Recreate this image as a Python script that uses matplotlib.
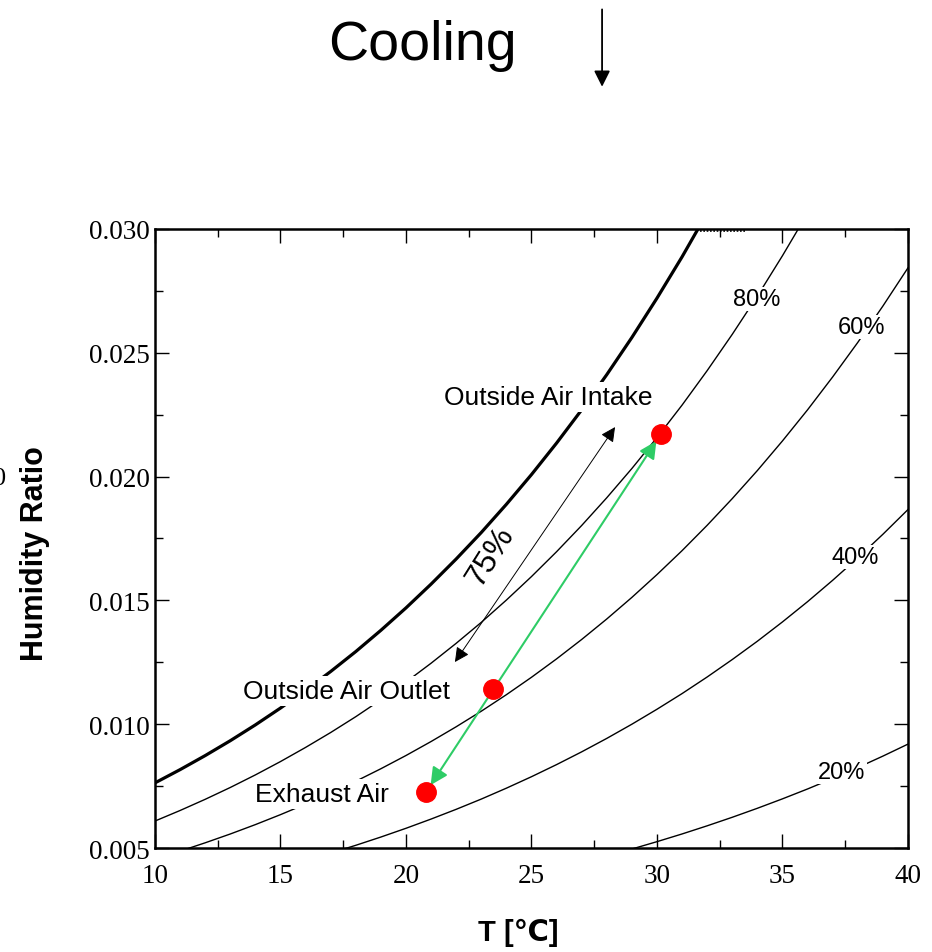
import matplotlib
matplotlib.use("Agg")
import matplotlib.pyplot as plt
from matplotlib.patches import FancyArrowPatch
from matplotlib.ticker import MultipleLocator, FormatStrFormatter

# humidity ratio (kg/kg) of each relative humidity line, one value per degC
t_100 = list(range(10, 34))
w_100 = [0.007631, 0.008166, 0.008733, 0.009334, 0.009973, 0.010652, 0.011370, 0.012129,
         0.012934, 0.013792, 0.014697, 0.015658, 0.016672, 0.017742, 0.018880, 0.020081,
         0.021353, 0.022696, 0.024117, 0.025617, 0.027205, 0.028874, 0.030647, 0.032518]
t_80 = list(range(10, 38))
w_80 = [0.006090, 0.006516, 0.006967, 0.007445, 0.007953, 0.008492, 0.009063, 0.009665,
        0.010304, 0.010985, 0.011703, 0.012463, 0.013267, 0.014113, 0.015013, 0.015962,
        0.016966, 0.018025, 0.019145, 0.020326, 0.021575, 0.022887, 0.024279, 0.025745,
        0.027288, 0.028919, 0.030633, 0.032450]
t_60 = list(range(10, 41))
w_60 = [0.004556, 0.004874, 0.005211, 0.005567, 0.005946, 0.006348, 0.006773, 0.007221,
        0.007696, 0.008202, 0.008736, 0.009301, 0.009897, 0.010525, 0.011192, 0.011895,
        0.012638, 0.013422, 0.014249, 0.015121, 0.016042, 0.017009, 0.018033, 0.019111,
        0.020244, 0.021440, 0.022696, 0.024024, 0.025417, 0.026885, 0.028428]
t_40 = list(range(16, 41))
w_40 = [0.004499, 0.004795, 0.005110, 0.005444, 0.005797, 0.006170, 0.006563, 0.006977,
        0.007417, 0.007880, 0.008369, 0.008884, 0.009427, 0.010000, 0.010604, 0.011237,
        0.011907, 0.012612, 0.013351, 0.014131, 0.014949, 0.015812, 0.016717, 0.017669,
        0.018668]
t_20 = list(range(28, 41))
w_20 = [0.004678, 0.004960, 0.005257, 0.005568, 0.005897, 0.006242, 0.006605, 0.006986,
        0.007385, 0.007807, 0.008248, 0.008711, 0.009196]

rh_labels = ["80%", "60%", "40%", "20%"]
rh_label_pos = [(33.98, 0.02717), (38.13, 0.02604), (37.89, 0.01675), (37.37, 0.00807)]

# air states
states = ["Outside Air Intake", "Outside Air Outlet", "Exhaust Air"]
state_t = [30.16, 23.47, 20.80]
state_w = [0.02172, 0.01142, 0.00726]
state_label_pos = [(25.66, 0.02321), (17.65, 0.01134), (16.65, 0.00718)]

# 75% arrow
arr75_start = (28.33, 0.0220)
arr75_end = (21.95, 0.01251)

sans = ["Liberation Sans", "DejaVu Sans"]

fig = plt.figure(figsize=(9.32, 9.53), dpi=100)
ax = fig.add_axes([0.1663, 0.1091, 0.8079, 0.6496])

ax.plot(t_100, w_100, color="black", lw=2.3)
for t, w in [(t_80, w_80), (t_60, w_60), (t_40, w_40), (t_20, w_20)]:
    ax.plot(t, w, color="black", lw=1.0)

# short dotted bit under the top spine where the saturation line leaves
ax.plot([31.7, 33.5], [0.02993, 0.02993], color="black", lw=1.2, ls=(0, (1, 1)))

for txt, (x, y) in zip(rh_labels, rh_label_pos):
    ax.text(x, y, txt, ha="center", va="center", zorder=3, family=sans, fontsize=17,
            bbox=dict(fc="white", ec="none", pad=1))

for txt, (x, y) in zip(states, state_label_pos):
    ax.text(x, y, txt, ha="center", va="center", zorder=3, family=sans, fontsize=19,
            bbox=dict(fc="white", ec="none", pad=2))

# cooling path intake -> exhaust
ax.annotate("", xy=(state_t[2], state_w[2]), xytext=(state_t[0], state_w[0]),
            arrowprops=dict(arrowstyle="<|-|>", color="#2ecc66", lw=1.5,
                            mutation_scale=26, shrinkA=6, shrinkB=6), zorder=4)
ax.annotate("", xy=arr75_end, xytext=arr75_start,
            arrowprops=dict(arrowstyle="<|-|>", color="black", lw=0.7,
                            mutation_scale=22, shrinkA=0, shrinkB=0), zorder=4)
ax.text(23.35, 0.01679, "75%", rotation=58, ha="center", va="center",
        family=sans, fontsize=23, zorder=4)

ax.plot(state_t, state_w, "o", color="#ff0000", ms=14, zorder=5)

ax.set_xlim(10, 40)
ax.set_ylim(0.005, 0.030)
ax.xaxis.set_major_locator(MultipleLocator(5))
ax.xaxis.set_minor_locator(MultipleLocator(2.5))
ax.yaxis.set_major_locator(MultipleLocator(0.005))
ax.yaxis.set_minor_locator(MultipleLocator(0.0025))
ax.yaxis.set_major_formatter(FormatStrFormatter("%.3f"))
ax.tick_params(which="both", direction="in", top=True, right=True, width=1)
ax.tick_params(which="major", length=10, labelsize=19.5, pad=4)
ax.tick_params(axis="x", which="major", pad=11)
ax.tick_params(which="minor", length=6)
for lab in ax.get_xticklabels() + ax.get_yticklabels():
    lab.set_family("Liberation Serif")
for sp in ax.spines.values():
    sp.set_linewidth(1.8)

ax.set_xlabel("T [\u2103]", family=sans, fontweight="bold", fontsize=21)
ax.set_ylabel("Humidity Ratio", family=sans, fontweight="bold", fontsize=22)
ax.xaxis.set_label_coords(0.483, -0.113)
ax.yaxis.set_label_coords(-0.14, 0.478)

fig.text(-0.007, 0.497, "0", family="Liberation Serif", fontsize=19, va="center")

fig.text(0.453, 0.952, "Cooling", family=sans, fontsize=40, ha="center", va="center")
fig.add_artist(FancyArrowPatch((0.646, 0.992), (0.646, 0.905), transform=fig.transFigure,
                               arrowstyle="-|>", mutation_scale=24, color="black", lw=1.3))

fig.savefig("out.png", dpi=100)
